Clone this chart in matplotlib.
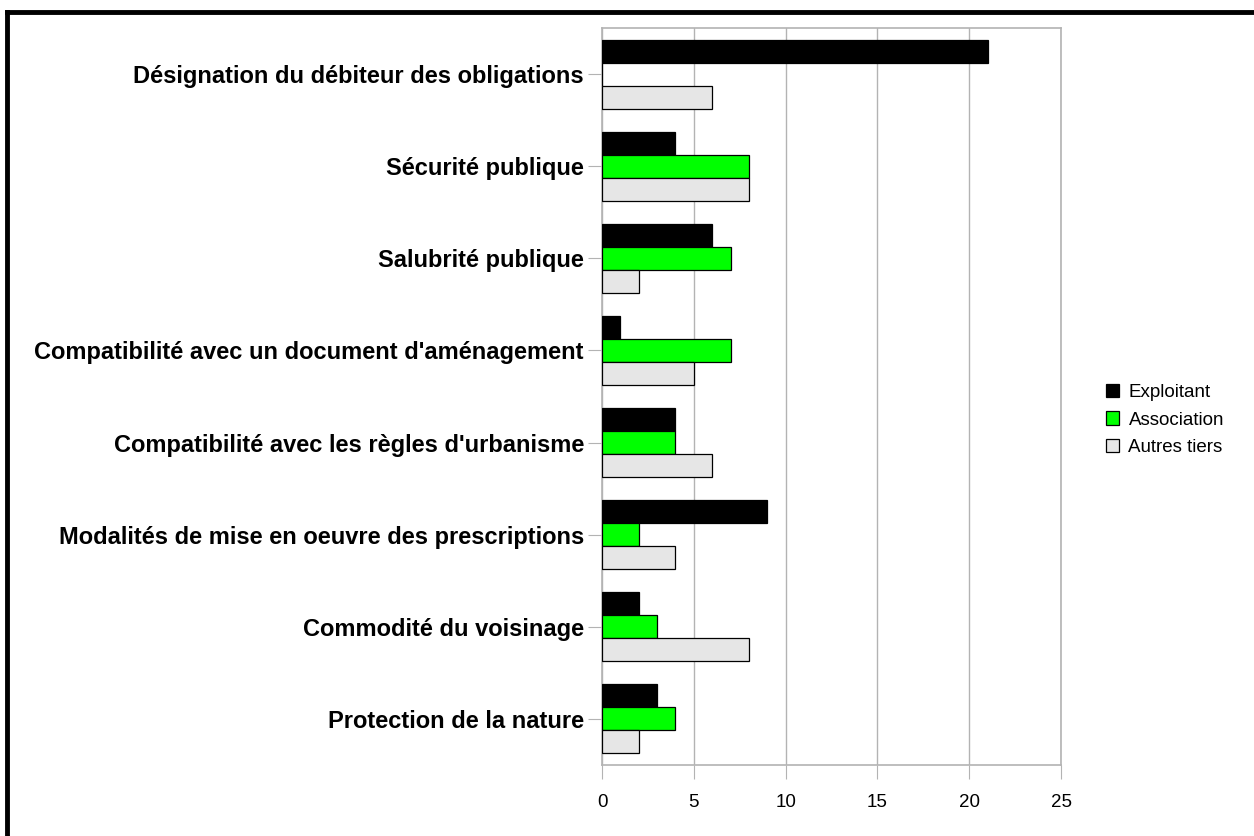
import matplotlib
matplotlib.use("Agg")
import matplotlib.pyplot as plt
import numpy as np
from matplotlib.lines import Line2D

categories = [
    "Désignation du débiteur des obligations",
    "Sécurité publique",
    "Salubrité publique",
    "Compatibilité avec un document d'aménagement",
    "Compatibilité avec les règles d'urbanisme",
    "Modalités de mise en oeuvre des prescriptions",
    "Commodité du voisinage",
    "Protection de la nature",
]
exploitant = [21, 4, 6, 1, 4, 9, 2, 3]
association = [0, 8, 7, 7, 4, 2, 3, 4]
autres = [6, 8, 2, 5, 6, 4, 8, 2]
series_names = ["Exploitant", "Association", "Autres tiers"]
colors = ["#000000", "#00ff00", "#e6e6e6"]
xticks = [0, 5, 10, 15, 20, 25]

plt.rcParams['font.family'] = ['Liberation Sans', 'DejaVu Sans']

fig = plt.figure(figsize=(12.54, 8.36), dpi=100)
ax = fig.add_axes([602/1254, 1-765/836, (1061-602)/1254, (765-28)/836])

n = len(categories)
y = np.arange(n)
h = 0.25
for i, (vals, c, name) in enumerate(zip([exploitant, association, autres], colors, series_names)):
    ax.barh(y + (i - 1) * h, vals, height=h, color=c, edgecolor="black", linewidth=0.9, label=name, zorder=3)

ax.set_ylim(n - 0.5, -0.5)
ax.set_xlim(0, 25)
ax.set_xticks(xticks)
ax.set_xticklabels([str(t) for t in xticks], fontsize=13.5)
ax.set_yticks(y)
ax.set_yticklabels(categories, fontsize=17, fontweight='bold')
ax.grid(axis='x', color='#b3b3b3', linewidth=1, zorder=0)
for s in ax.spines.values():
    s.set_color('#b3b3b3')
    s.set_linewidth(1.2)
ax.tick_params(axis='x', length=10, color='#b3b3b3', pad=11)
ax.tick_params(axis='y', length=10, color='#b3b3b3', pad=3)

leg = fig.legend(loc='center left', bbox_to_anchor=(1106/1254, 1-420/836), frameon=False,
                 fontsize=13.5, handlelength=0.7, handleheight=0.7, handletextpad=0.5,
                 labelspacing=0.55, borderpad=0, borderaxespad=0)

# Outer frame (top and left edges visible)
fig.add_artist(Line2D([7/1254, 1.0], [1-12/836, 1-12/836], color='black', linewidth=3.5, transform=fig.transFigure))
fig.add_artist(Line2D([7/1254, 7/1254], [0.0, 1-12/836], color='black', linewidth=3.5, transform=fig.transFigure))

fig.savefig("out.png", dpi=100)
